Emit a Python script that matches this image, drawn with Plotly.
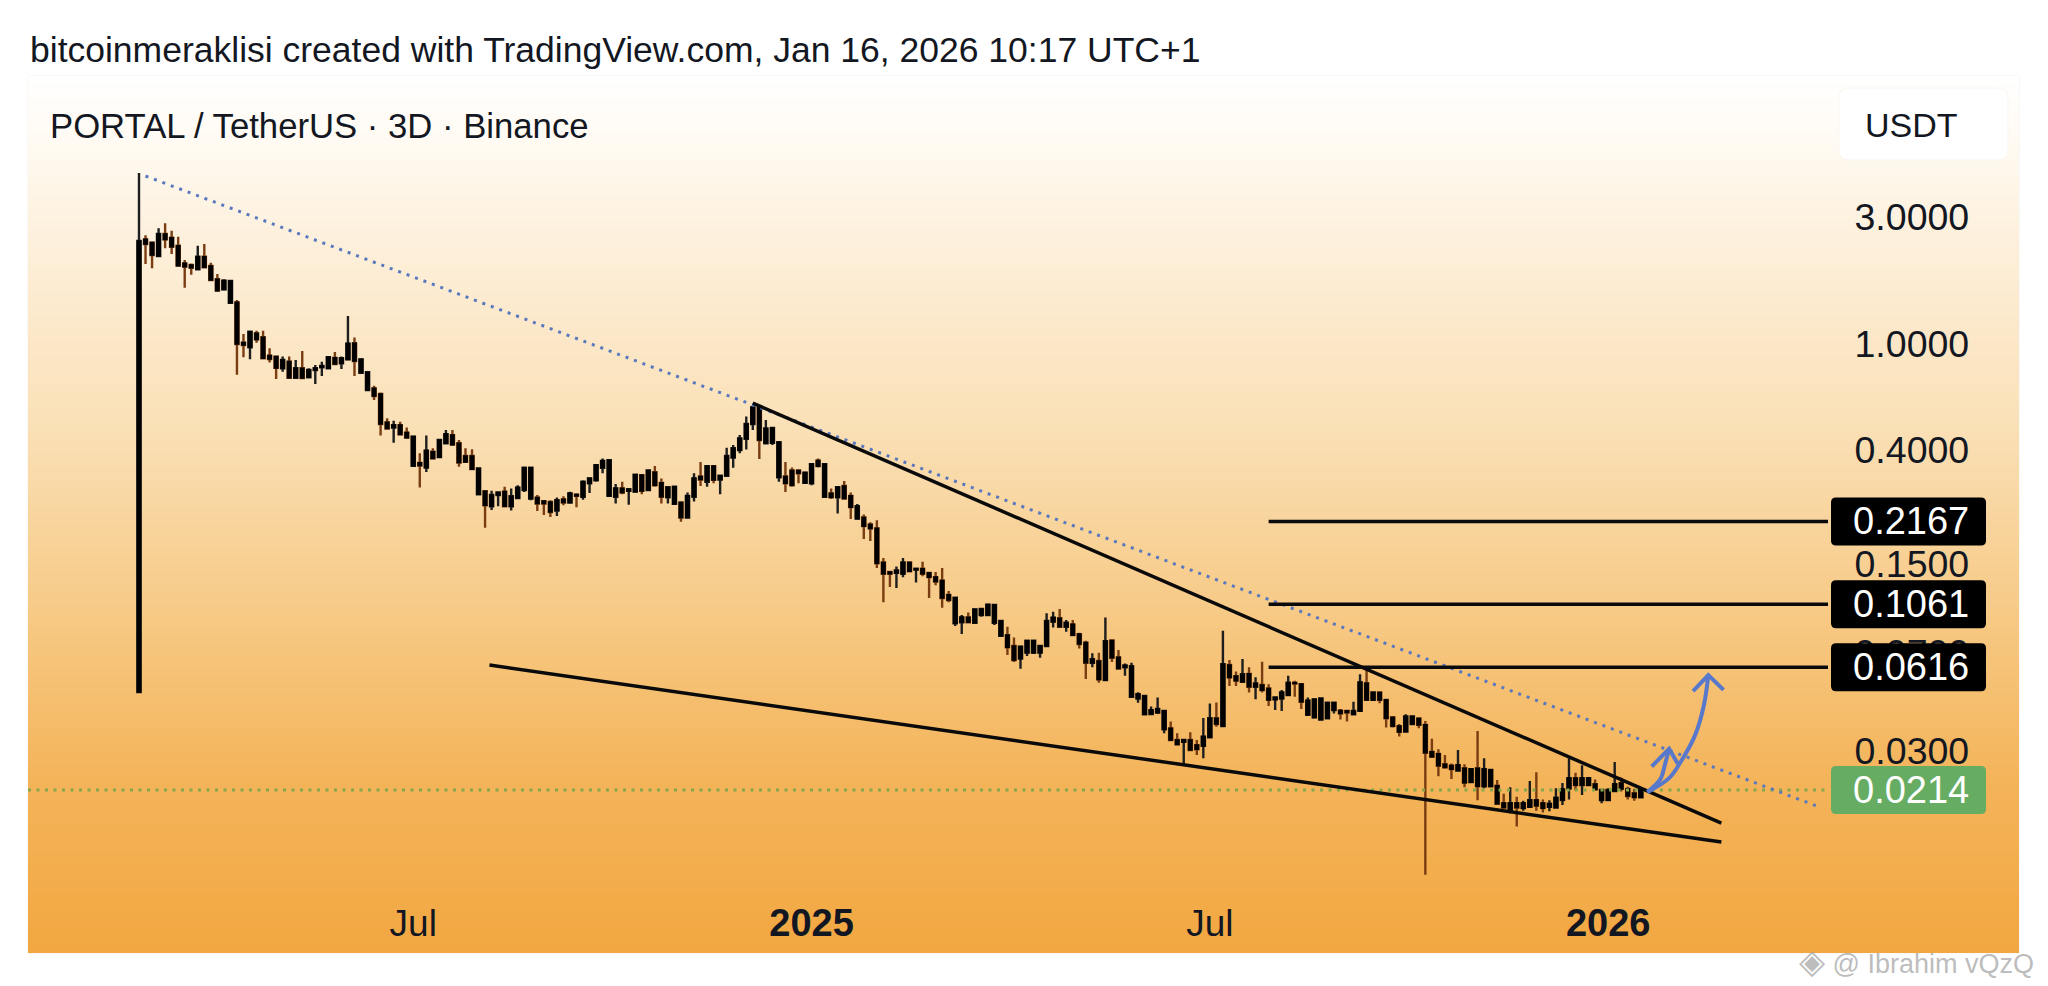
import math

import pandas as pd
import plotly.graph_objects as go

# the page keeps an 8px body margin, so the figure is drawn that much smaller and
# px()/py() below still take positions in full screenshot pixels
PAGE_MARGIN = 8
W, H = 2048 - 2 * PAGE_MARGIN, 986 - 2 * PAGE_MARGIN
FONT = "Liberation Sans"
INK = "#131722"

# 3D candles, first one is the listing on Binance
start_date = "2024-02-29"
opens = [
    .0498, 2.465, 2.396, 2.135, 2.581, 2.5, 2.334, 2.004, 1.976, 1.904,
    2.123, 1.959, 1.747, 1.602, 1.428, 1.432, 1.012, .972, 1.096, 1.06,
    .905, .897, .811, .859, .748, .811, .751, .799, .818, .811,
    .887, .847, .876, 1.006, .781, .673, .682, .65, .509, .487,
    .497, .466, .35, .359, .345, .395, .377, .425, .456, .425,
    .381, .381, .274, .281, .247, .272, .28, .247, .265, .284,
    .264, .266, .258, .256, .238, .262, .255, .273, .268, .301,
    .309, .344, .27, .268, .288, .282, .28, .323, .284, .331,
    .302, .267, .252, .255, .224, .268, .319, .305, .349, .311,
    .321, .376, .401, .442, .502, .579, .425, .427, .317, .319,
    .336, .336, .302, .301, .366, .268, .276, .267, .294, .27,
    .222, .224, .211, .204, .152, .14, .139, .138, .152, .143,
    .144, .139, .134, .13, .115, .09, .0908, .0947, .0905, .0967,
    .0967, .0905, .0809, .0813, .074, .0665, .0699, .0699, .0699, .074,
    .0913, .094, .0874, .0892, .082, .0762, .0641, .065, .0552, .0776,
    .0671, .0616, .0478, .0471, .0411, .0412, .0417, .0361, .0364, .0329,
    .0324, .0329, .0315, .0313, .0337, .0397, .0371, .0628, .0571, .0544,
    .0582, .0521, .0529, .0513, .0467, .0471, .0485, .0539, .0533, .0409,
    .04, .0393, .0397, .0426, .0424, .0423, .0411, .0423, .0537, .0465,
    .0496, .0465, .04, .0371, .0354, .0378, .0396, .0375, .0297, .0292,
    .0267, .0264, .0253, .0258, .0229, .0258, .0221, .0221, .0222, .0191,
    .018, .0191, .0183, .0185, .0196, .0191, .0185, .0184, .0196, .0217,
    .0237, .0223, .0223, .0225, .0196, .0196, .0212, .0227, .0216, .0208, .0201,
]
highs = [
    4.367, 2.552, 2.416, 2.711, 2.83, 2.657, 2.522, 2.063, 2.004, 2.334,
    2.368, 2.016, 1.829, 1.747, 1.727, 1.461, 1.09, 1.122, 1.122, 1.122,
    .964, .902, .897, .897, .871, .942, .811, .835, .859, .902,
    .934, .897, 1.273, 1.057, .884, .786, .698, .658, .527, .516,
    .512, .487, .453, .39, .454, .407, .44, .477, .477, .437,
    .407, .404, .342, .284, .282, .28, .292, .288, .296, .347,
    .347, .272, .26, .26, .266, .269, .28, .276, .309, .316,
    .355, .373, .37, .299, .305, .288, .325, .325, .34, .349,
    .314, .294, .294, .257, .278, .328, .362, .352, .349, .325,
    .409, .419, .456, .535, .583, .585, .519, .488, .432, .362,
    .345, .338, .333, .357, .373, .357, .288, .292, .307, .278,
    .252, .23, .215, .219, .158, .14, .147, .158, .153, .145,
    .153, .14, .14, .145, .119, .1125, .0967, .0987, .1018, .1024,
    .1063, .1063, .0926, .0874, .0797, .074, .0783, .0779, .0746, .0981,
    .0995, .1018, .0926, .0926, .083, .0774, .0695, .0699, .0947, .0779,
    .0715, .0637, .0641, .0497, .0485, .0439, .0475, .0424, .0386, .0349,
    .0331, .0352, .0329, .0398, .0451, .0455, .0844, .0656, .0594, .0662,
    .0616, .0565, .0646, .0532, .0478, .0506, .0573, .0549, .0536, .0475,
    .0471, .0475, .0458, .0458, .043, .0426, .0458, .058, .0602, .0499,
    .0499, .0467, .0403, .0378, .0411, .0407, .04, .0388, .0333, .0304,
    .0289, .0269, .0302, .0267, .0258, .0356, .0281, .0256, .0233, .0207,
    .0219, .0202, .0195, .0231, .0249, .0197, .0196, .0217, .0227, .0281,
    .0248, .0265, .0238, .0234, .0215, .0217, .0272, .0238, .022, .0216, .0217,
]
lows = [
    .0498, 1.993, 1.92, 2.123, 2.281, 2.173, 1.948, 1.626, 1.818, 1.893,
    1.937, 1.737, 1.57, 1.602, 1.428, .768, .892, .876, 1.012, .884,
    .852, .74, .788, .748, .744, .746, .744, .708, .759, .804,
    .842, .806, .876, .759, .777, .671, .617, .454, .479, .427,
    .456, .443, .348, .29, .332, .37, .377, .423, .418, .347,
    .361, .34, .271, .205, .239, .247, .247, .238, .263, .279,
    .26, .237, .229, .225, .227, .249, .254, .245, .261, .277,
    .305, .328, .27, .253, .274, .25, .28, .274, .282, .292,
    .253, .253, .252, .216, .224, .257, .294, .292, .301, .274,
    .321, .344, .39, .403, .476, .371, .422, .419, .305, .279,
    .292, .301, .301, .296, .345, .267, .263, .232, .262, .221,
    .221, .186, .183, .145, .108, .123, .122, .134, .14, .128,
    .135, .112, .125, .103, .108, .088, .082, .0905, .0905, .0953,
    .0967, .0887, .0807, .0685, .0645, .0609, .0679, .0691, .0669, .0736,
    .0869, .0869, .0837, .0809, .0725, .0557, .0616, .0539, .0552, .0645,
    .0607, .0573, .0477, .0454, .0411, .0409, .0412, .0349, .0327, .0314,
    .0267, .0299, .0289, .0281, .0336, .0369, .0369, .0524, .0524, .0539,
    .0496, .0468, .0496, .0441, .0426, .0423, .0482, .0478, .043, .0408,
    .0397, .0389, .0396, .0414, .0393, .0386, .0411, .0423, .0462, .0462,
    .0452, .0367, .0367, .0339, .0353, .0374, .0364, .0103, .0285, .0241,
    .026, .0235, .0251, .0219, .0229, .0196, .0217, .022, .019, .0183,
    .0175, .0156, .0179, .0184, .0179, .0176, .0178, .0183, .0188, .0197,
    .0213, .0205, .0223, .0213, .0191, .0195, .0211, .0211, .0197, .0195, .02,
]
closes = [
    2.43, 2.368, 2.154, 2.581, 2.465, 2.314, 1.965, 1.948, 1.931, 2.123,
    1.937, 1.737, 1.584, 1.727, 1.722, 1.0, .992, 1.112, 1.041, .884,
    .879, .814, .871, .748, .811, .746, .799, .811, .827, .892,
    .842, .884, 1.003, .864, .876, .784, .639, .502, .483, .497,
    .459, .446, .45, .351, .399, .373, .437, .46, .42, .36,
    .362, .34, .342, .249, .272, .278, .247, .269, .29, .344,
    .344, .253, .253, .235, .26, .255, .276, .27, .305, .314,
    .352, .365, .367, .288, .278, .286, .324, .282, .336, .296,
    .268, .291, .292, .224, .27, .314, .311, .349, .31, .321,
    .381, .407, .443, .502, .579, .437, .483, .485, .429, .301,
    .296, .328, .33, .355, .349, .355, .267, .291, .264, .245,
    .247, .208, .204, .151, .138, .138, .142, .152, .141, .144,
    .138, .134, .129, .112, .11, .1122, .0947, .0908, .1015, .1018,
    .1057, .1054, .0918, .0732, .0656, .0736, .0774, .0774, .074, .0918,
    .0945, .0874, .0905, .0813, .0753, .0641, .066, .0555, .0772, .0669,
    .061, .0626, .0622, .0488, .0481, .0426, .043, .0423, .0329, .0317,
    .0329, .0302, .0304, .0339, .0397, .0378, .0633, .0565, .0549, .058,
    .0521, .0536, .0506, .0465, .0475, .0496, .0539, .0536, .0458, .0462,
    .0467, .0471, .0454, .0454, .0414, .0417, .0423, .0541, .0465, .0496,
    .0465, .0397, .0371, .0353, .0403, .0403, .0375, .0295, .0285, .0264,
    .026, .0256, .0265, .0228, .0256, .0221, .0256, .0254, .019, .0184,
    .0191, .0184, .0191, .0196, .0187, .0183, .019, .02, .0215, .0237,
    .0223, .0237, .0237, .0215, .0214, .0214, .0225, .0216, .0203, .0201, .0214,
]

# axis labels
x_tick_dates = ["2024-07-04", "2025-01-03", "2025-07-05", "2026-01-04"]
x_tick_labels = [
    "Jul",
    '<b><span style="font-size:38px">2025</span></b>',
    "Jul",
    '<b><span style="font-size:38px">2026</span></b>',
]
y_tick_values = [3, 1, 0.4, 0.15, 0.07, 0.03]
y_tick_labels = ["3.0000", "1.0000", "0.4000", "0.1500", "0.0700", "0.0300"]

# drawings on the chart
level_start = "2025-08-01"
level_values = [0.2167, 0.1061, 0.0616]
last_price = 0.0214
x_range = ["2024-01-09", "2026-04-15"]
y_range_prices = [0.00943, 10.08]

dotted_dates = ["2024-03-03", "2026-04-11"]
dotted_prices = [4.256, 0.01848]
upper_dates = ["2024-12-07", "2026-02-25"]
upper_prices = [0.601, 0.01609]
lower_dates = ["2024-08-08", "2026-02-25"]
lower_prices = [0.0628, 0.01366]
short_arrow_dates = ["2026-01-22", "2026-01-28", "2026-01-30", "2026-02-01"]
short_arrow_prices = [0.0210, 0.0235, 0.0265, 0.0305]
short_head_dates = ["2026-01-24", "2026-02-01", "2026-02-05"]
short_head_prices = [0.0262, 0.0305, 0.0268]
long_arrow_dates = ["2026-01-22", "2026-02-01", "2026-02-06", "2026-02-13", "2026-02-17", "2026-02-19"]
long_arrow_prices = [0.0210, 0.0237, 0.0270, 0.0344, 0.0445, 0.0576]
long_head_dates = ["2026-02-12", "2026-02-19", "2026-02-26"]
long_head_prices = [0.0502, 0.0576, 0.0507]

# panel gradient, top to bottom
gradient_stops = [0, 0.05, 0.2, 0.4, 0.6, 0.8, 1]
gradient_colors = ["#FFFFFF", "#FFFCF7", "#FDEFD9", "#FAE0B6", "#F7CB88", "#F4B45A", "#F2A741"]

PANEL_TOP, PRICE_BOTTOM = 76, 885


def px(x):
    return (x - PAGE_MARGIN) / W


def py(y):
    return 1 - (y - PAGE_MARGIN) / H


def price_y(price):
    # screenshot row of a price on the log axis, for the boxes on the price scale
    lo, hi = (math.log10(p) for p in y_range_prices)
    return PRICE_BOTTOM - (math.log10(price) - lo) / (hi - lo) * (PRICE_BOTTOM - PANEL_TOP)


def rounded_rect(x0, y0, x1, y1, r):
    # svg path in paper coordinates, plotly has no corner radius on rects
    return (
        f"M {px(x0 + r)} {py(y0)} L {px(x1 - r)} {py(y0)} Q {px(x1)} {py(y0)} {px(x1)} {py(y0 + r)} "
        f"L {px(x1)} {py(y1 - r)} Q {px(x1)} {py(y1)} {px(x1 - r)} {py(y1)} "
        f"L {px(x0 + r)} {py(y1)} Q {px(x0)} {py(y1)} {px(x0)} {py(y1 - r)} "
        f"L {px(x0)} {py(y0 + r)} Q {px(x0)} {py(y0)} {px(x0 + r)} {py(y0)} Z"
    )


dates = pd.date_range(start_date, periods=len(closes), freq="3D")
body_tops = [max(o, c) for o, c in zip(opens, closes)]
body_bottoms = [min(o, c) for o, c in zip(opens, closes)]

fig = go.Figure()

# gradient behind everything, on its own axes
fig.add_trace(
    go.Heatmap(
        x=[0, 1],
        y=[1 - s for s in reversed(gradient_stops)],
        z=[[s, s] for s in reversed(gradient_stops)],
        colorscale=[[s, c] for s, c in zip(gradient_stops, gradient_colors)],
        zmin=0,
        zmax=1,
        zsmooth="best",
        showscale=False,
        hoverinfo="skip",
        xaxis="x",
        yaxis="y",
    )
)


def line_trace(x, y, **line):
    return go.Scatter(x=x, y=y, mode="lines", line=line, hoverinfo="skip", xaxis="x2", yaxis="y2")


fig.add_trace(line_trace(x_range, [last_price, last_price], color="#86A84B", width=3, dash="3px,5.5px"))

# wicks, then black bodies over them so only the wick keeps the direction colour
fig.add_trace(
    go.Candlestick(
        x=dates,
        open=opens,
        high=highs,
        low=lows,
        close=closes,
        increasing=dict(line=dict(color="#1E1E1E", width=2.4), fillcolor="#000000"),
        decreasing=dict(line=dict(color="#7A3D12", width=2.4), fillcolor="#000000"),
        whiskerwidth=0,
        xaxis="x2",
        yaxis="y2",
    )
)
fig.add_trace(
    go.Candlestick(
        x=dates,
        open=body_bottoms,
        high=body_tops,
        low=body_bottoms,
        close=body_tops,
        increasing=dict(line=dict(color="#000000", width=1.6), fillcolor="#000000"),
        whiskerwidth=0,
        xaxis="x2",
        yaxis="y2",
    )
)

fig.add_trace(line_trace(dotted_dates, dotted_prices, color="#5A78BE", width=3, dash="3px,6px"))
fig.add_trace(line_trace(upper_dates, upper_prices, color="#0A0A0A", width=3.5))
fig.add_trace(line_trace(lower_dates, lower_prices, color="#0A0A0A", width=3.5))
for level in level_values:
    fig.add_trace(line_trace([level_start, x_range[1]], [level, level], color="#0A0A0A", width=3.5))

for ax, ay, shape in [
    (short_arrow_dates, short_arrow_prices, "spline"),
    (short_head_dates, short_head_prices, "linear"),
    (long_arrow_dates, long_arrow_prices, "spline"),
    (long_head_dates, long_head_prices, "linear"),
]:
    fig.add_trace(line_trace(ax, ay, color="#5878CC", width=4, shape=shape))

annotations = [
    dict(
        text="bitcoinmeraklisi created with TradingView.com, Jan 16, 2026 10:17 UTC+1",
        x=px(28), y=py(50), xanchor="left", font=dict(size=35.5, color=INK),
    ),
    dict(
        text="PORTAL / TetherUS · 3D · Binance",
        x=px(48), y=py(126), xanchor="left", font=dict(size=34.7, color=INK),
    ),
    dict(text="USDT", x=px(1863), y=py(125), xanchor="left", font=dict(size=34, color=INK)),
    dict(
        text='<span style="font-size:34px">◈</span> @ Ibrahim vQzQ',
        x=px(2036), y=py(961), xanchor="right", font=dict(size=27, color="rgba(150,150,150,0.65)"),
    ),
]
shapes = [
    dict(
        type="rect", xref="paper", yref="paper", layer="below",
        x0=px(28), x1=px(2019), y0=py(953), y1=py(76),
        line=dict(color="#F4F2EE", width=1),
    ),
    dict(
        type="path", xref="paper", yref="paper",
        path=rounded_rect(1839, 88, 2008, 160, 10),
        fillcolor="#FFFFFF", line=dict(color="#FBF7EF", width=1),
    ),
]
for value, color in [(v, "#000000") for v in level_values] + [(last_price, "#66AC62")]:
    row = price_y(value)
    shapes.append(
        dict(
            type="path", xref="paper", yref="paper",
            path=rounded_rect(1831, row - 24, 1986, row + 24, 5),
            fillcolor=color, line=dict(width=0),
        )
    )
    annotations.append(
        dict(
            text=f"{value:.4f}",
            xref="paper",
            yref="y2",
            x=px(1911),
            y=math.log10(value),
            xanchor="center",
            font=dict(size=38, color="#FFFFFF"),
        )
    )
for a in annotations:
    a.setdefault("xref", "paper")
    a.setdefault("yref", "paper")
    a.setdefault("yanchor", "middle")
    a["showarrow"] = False

fig.update_layout(
    width=W,
    height=H,
    margin=dict(l=0, r=0, t=0, b=0),
    paper_bgcolor="#FFFFFF",
    plot_bgcolor="rgba(0,0,0,0)",
    font=dict(family=FONT, color=INK),
    showlegend=False,
    boxmode="overlay",
    xaxis=dict(domain=[px(28), px(2019)], range=[0, 1], visible=False, anchor="y"),
    yaxis=dict(domain=[py(953), py(76)], range=[0, 1], visible=False, anchor="x"),
    xaxis2=dict(
        domain=[px(28), px(1828)],
        range=x_range,
        type="date",
        anchor="y2",
        rangeslider=dict(visible=False),
        showgrid=False,
        zeroline=False,
        showline=False,
        tickmode="array",
        tickvals=x_tick_dates,
        ticktext=x_tick_labels,
        ticks="outside",
        ticklen=6,
        tickcolor="rgba(0,0,0,0)",
        tickfont=dict(size=37, color=INK),
    ),
    yaxis2=dict(
        domain=[py(PRICE_BOTTOM), py(PANEL_TOP)],
        type="log",
        range=[math.log10(p) for p in y_range_prices],
        anchor="x2",
        side="right",
        showgrid=False,
        zeroline=False,
        showline=False,
        tickmode="array",
        tickvals=y_tick_values,
        ticktext=y_tick_labels,
        ticks="outside",
        ticklen=18,
        tickcolor="rgba(0,0,0,0)",
        tickfont=dict(size=37.5, color=INK),
    ),
    shapes=shapes,
    annotations=annotations,
)

fig.write_html("out.html")
